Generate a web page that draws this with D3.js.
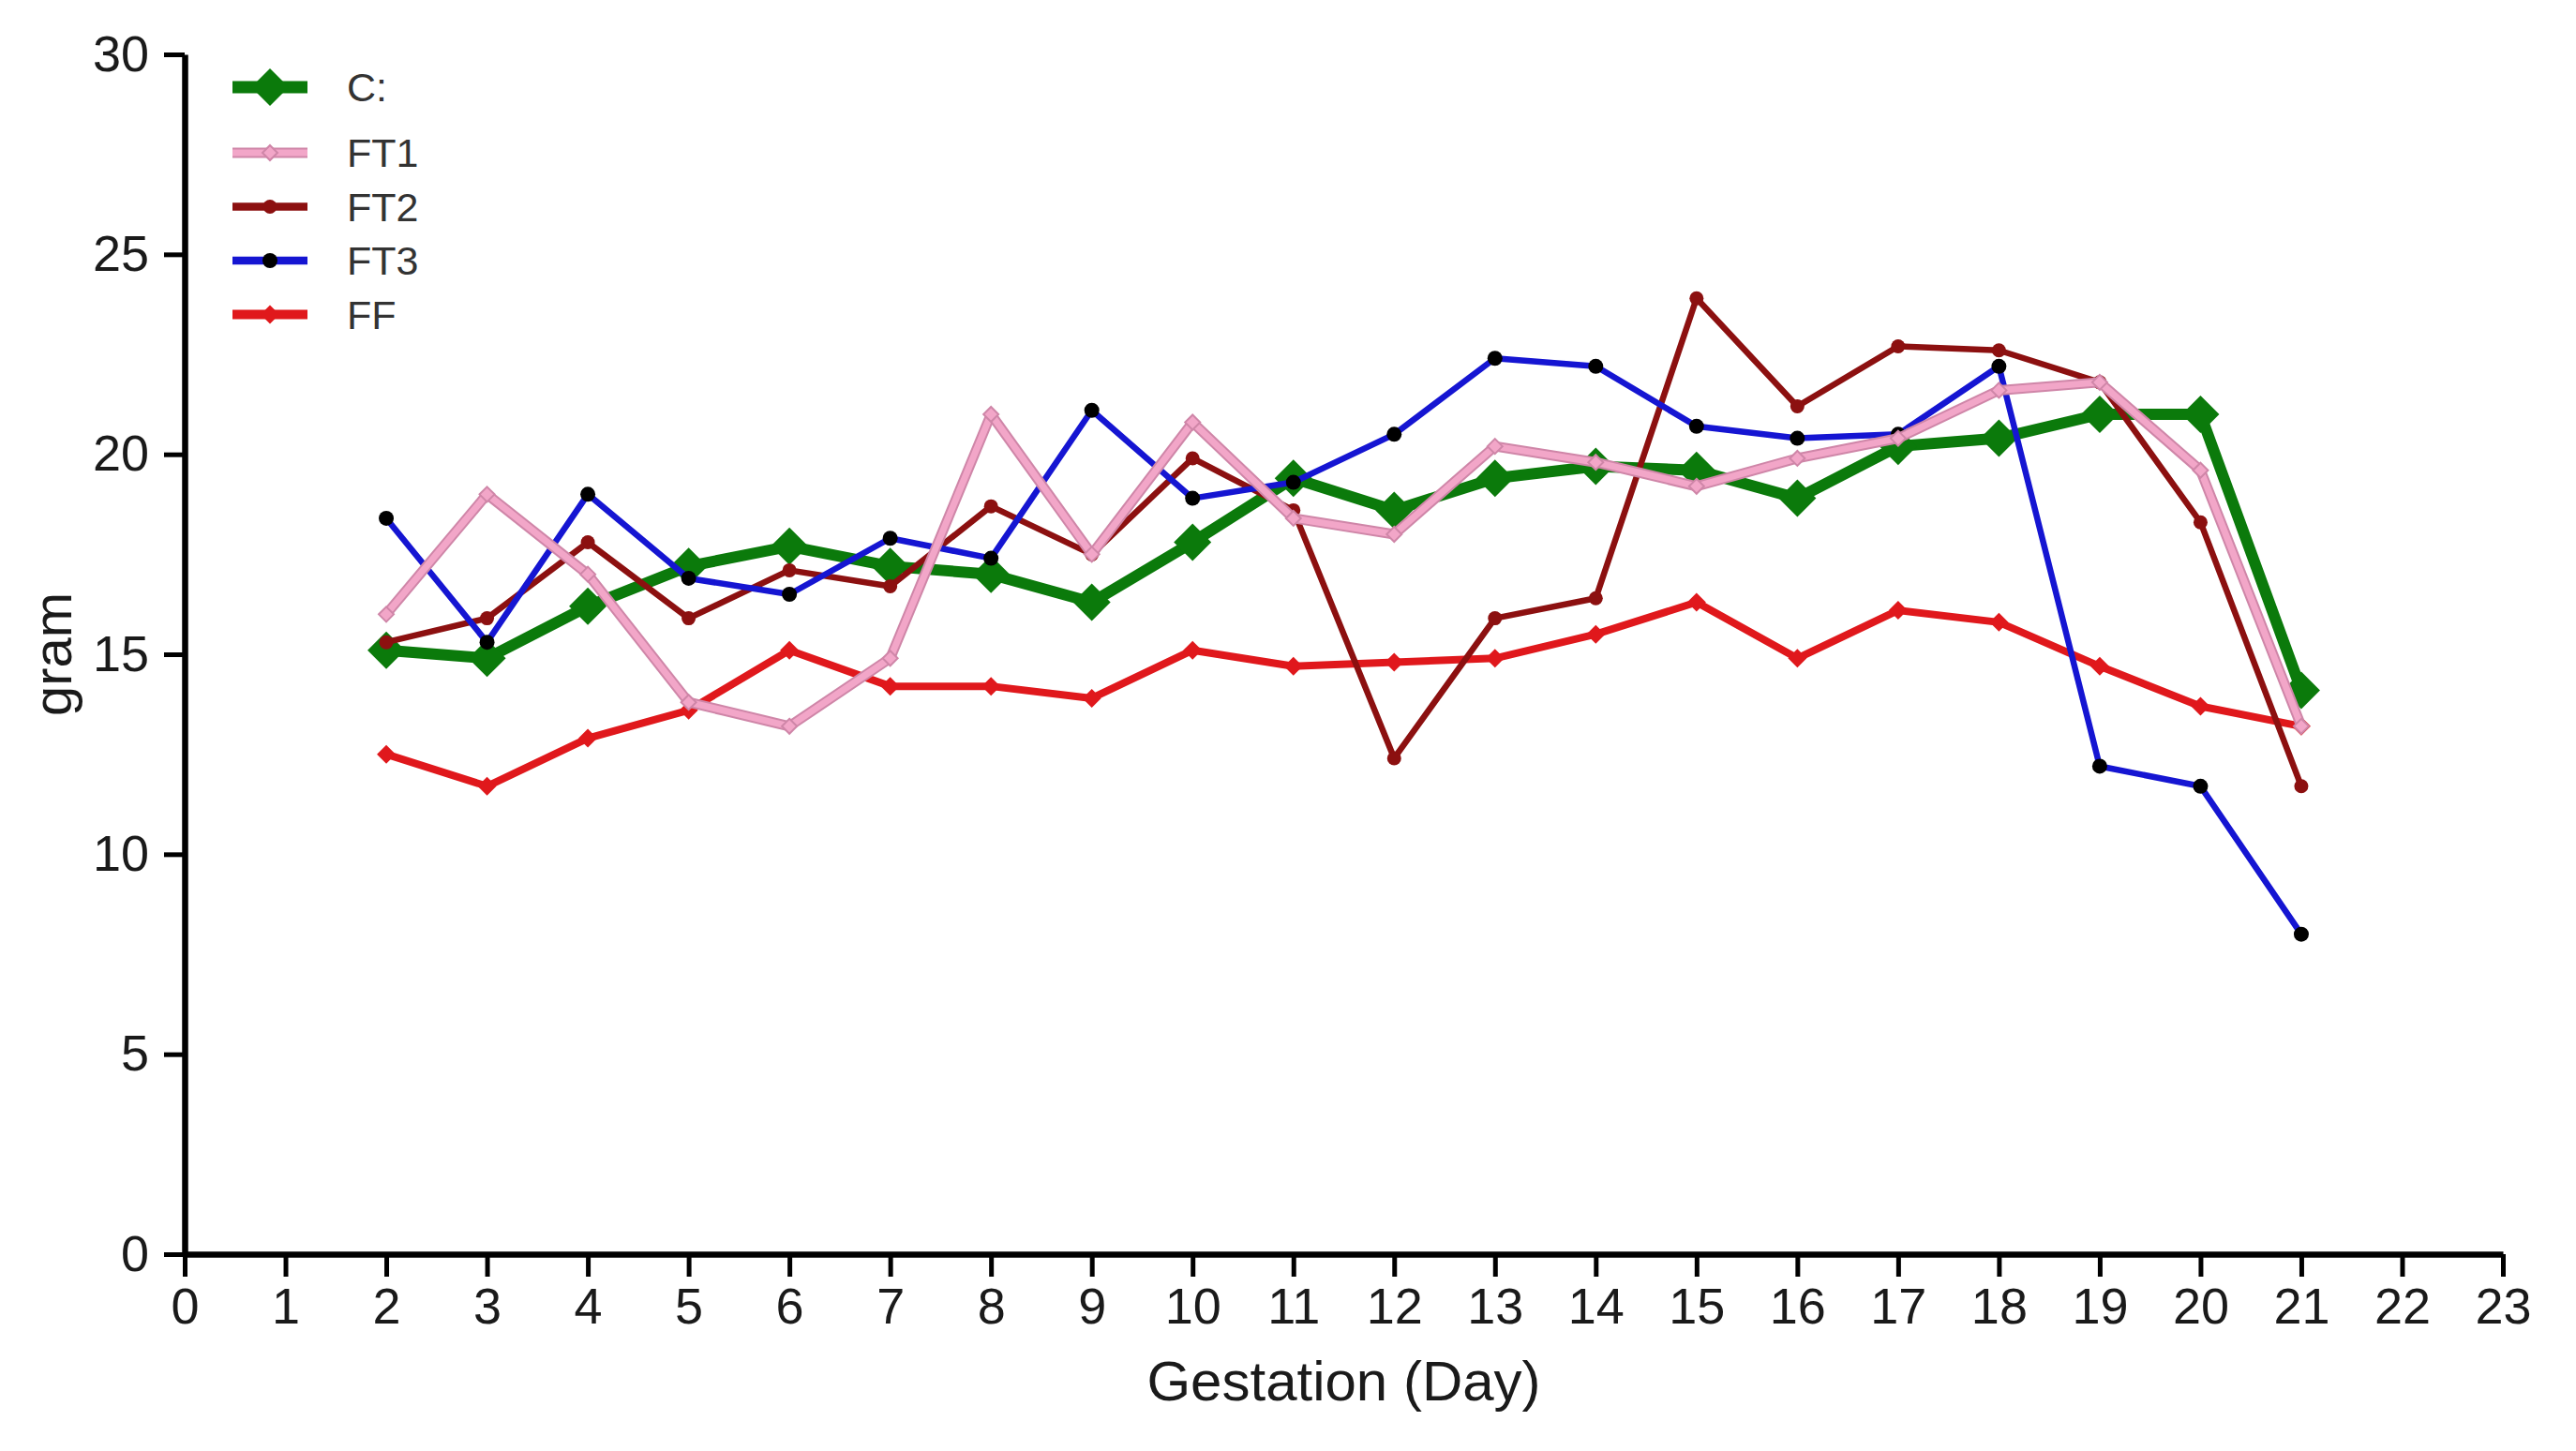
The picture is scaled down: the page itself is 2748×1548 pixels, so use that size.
<!DOCTYPE html>
<html>
<head>
<meta charset="utf-8">
<script src="https://cdn.jsdelivr.net/npm/d3@7"></script>
<style>
  html, body { margin: 0; padding: 0; background: #fff; }
  svg { display: block; }
</style>
</head>
<body>
<svg id="chart"></svg>
<script>
const WIDTH = 2748;
const HEIGHT = 1548;

// data
const days = [2, 3, 4, 5, 6, 7, 8, 9, 10, 11, 12, 13, 14, 15, 16, 17, 18, 19, 20, 21];
const seriesNames = ["C:", "FT1", "FT2", "FT3", "FF"];
const valuesC = [15.1, 14.9, 16.2, 17.2, 17.7, 17.2, 17.0, 16.3, 17.8, 19.4, 18.6, 19.4, 19.7, 19.6, 18.9, 20.2, 20.4, 21.0, 21.0, 14.1];
const valuesFT1 = [16.0, 19.0, 17.0, 13.8, 13.2, 14.9, 21.0, 17.5, 20.8, 18.4, 18.0, 20.2, 19.8, 19.2, 19.9, 20.4, 21.6, 21.8, 19.6, 13.2];
const valuesFT2 = [15.3, 15.9, 17.8, 15.9, 17.1, 16.7, 18.7, 17.5, 19.9, 18.6, 12.4, 15.9, 16.4, 23.9, 21.2, 22.7, 22.6, 21.8, 18.3, 11.7];
const valuesFT3 = [18.4, 15.3, 19.0, 16.9, 16.5, 17.9, 17.4, 21.1, 18.9, 19.3, 20.5, 22.4, 22.2, 20.7, 20.4, 20.5, 22.2, 12.2, 11.7, 8.0];
const valuesFF = [12.5, 11.7, 12.9, 13.6, 15.1, 14.2, 14.2, 13.9, 15.1, 14.7, 14.8, 14.9, 15.5, 16.3, 14.9, 16.1, 15.8, 14.7, 13.7, 13.2];
const xTicks = [0, 1, 2, 3, 4, 5, 6, 7, 8, 9, 10, 11, 12, 13, 14, 15, 16, 17, 18, 19, 20, 21, 22, 23];
const yTicks = [0, 5, 10, 15, 20, 25, 30];

const FONT = "'Liberation Sans', Arial, sans-serif";

const styles = {
  "C:": { color: "#0b7a0b", width: 12, marker: "bigDiamond", markerFill: "#0b7a0b", r: 20 },
  FT1: { color: "#f2a6c8", outline: "#cf86a8", width: 9, marker: "diamond", markerFill: "#f2a6c8", r: 8 },
  FT2: { color: "#8c1010", width: 6.5, marker: "circle", markerFill: "#8c1010", r: 7.5 },
  FT3: { color: "#1515d2", width: 6.5, marker: "circle", markerFill: "#000000", r: 8 },
  FF: { color: "#e0181c", width: 8, marker: "diamond", markerFill: "#e0181c", r: 10 },
};

const valuesByName = { "C:": valuesC, FT1: valuesFT1, FT2: valuesFT2, FT3: valuesFT3, FF: valuesFF };

const svg = d3.select("#chart").attr("width", WIDTH).attr("height", HEIGHT);

const x = d3.scaleLinear().domain([0, 23]).range([197, 2670]);
const y = d3.scaleLinear().domain([0, 30]).range([1338, 58]);

const diamondPath = (r) => `M0,${-r}L${r},0L0,${r}L${-r},0Z`;

// axes
const xAxis = svg
  .append("g")
  .attr("transform", `translate(0, ${y(0)})`)
  .call(d3.axisBottom(x).tickValues(xTicks).tickSizeInner(24).tickSizeOuter(0).tickPadding(12));

const yAxis = svg
  .append("g")
  .attr("transform", `translate(${x(0)}, 0)`)
  .call(d3.axisLeft(y).tickValues(yTicks).tickSizeInner(22).tickSizeOuter(0).tickPadding(16));

[xAxis, yAxis].forEach((g) => {
  g.select(".domain").attr("stroke", "#000").attr("stroke-width", 6.5);
  g.selectAll(".tick line").attr("stroke", "#000").attr("stroke-width", 5);
  g.selectAll(".tick text").attr("font-family", FONT).attr("font-size", 54).attr("fill", "#1a1a1a");
});

// axis titles
svg
  .append("text")
  .attr("x", (x(0) + x(23)) / 2)
  .attr("y", 1494)
  .attr("text-anchor", "middle")
  .attr("font-family", FONT)
  .attr("font-size", 60)
  .attr("fill", "#1a1a1a")
  .text("Gestation (Day)");

svg
  .append("text")
  .attr("transform", `translate(76, ${(y(0) + y(30)) / 2}) rotate(-90)`)
  .attr("text-anchor", "middle")
  .attr("font-family", FONT)
  .attr("font-size", 58)
  .attr("fill", "#1a1a1a")
  .text("gram");

// lines
const line = d3
  .line()
  .x((d) => x(d.day))
  .y((d) => y(d.value));

const drawOrder = ["C:", "FF", "FT2", "FT3", "FT1"];

const drawMarker = (g, st, cx, cy) => {
  if (st.marker === "circle") {
    g.append("circle").attr("cx", cx).attr("cy", cy).attr("r", st.r).attr("fill", st.markerFill);
  } else {
    g.append("path")
      .attr("d", diamondPath(st.r))
      .attr("transform", `translate(${cx}, ${cy})`)
      .attr("fill", st.markerFill)
      .attr("stroke", st.outline || "none")
      .attr("stroke-width", st.outline ? 2 : 0);
  }
};

drawOrder.forEach((name) => {
  const st = styles[name];
  const data = days.map((day, i) => ({ day, value: valuesByName[name][i] }));
  const g = svg.append("g");
  if (st.outline) {
    g.append("path")
      .datum(data)
      .attr("d", line)
      .attr("fill", "none")
      .attr("stroke", st.outline)
      .attr("stroke-width", st.width + 2)
      .attr("stroke-linejoin", "round");
  }
  g.append("path")
    .datum(data)
    .attr("d", line)
    .attr("fill", "none")
    .attr("stroke", st.color)
    .attr("stroke-width", st.outline ? st.width - 2 : st.width)
    .attr("stroke-linejoin", "round");
  data.forEach((d) => drawMarker(g, st, x(d.day), y(d.value)));
});

// legend
const legendY = (i) => (i === 0 ? 93 : 163 + (i - 1) * 57.5);
seriesNames.forEach((name, i) => {
  const st = styles[name];
  const g = svg.append("g").attr("transform", `translate(0, ${legendY(i)})`);
  if (st.outline) {
    g.append("line").attr("x1", 248).attr("x2", 328).attr("stroke", st.outline).attr("stroke-width", st.width + 2);
    g.append("line").attr("x1", 248).attr("x2", 328).attr("stroke", st.color).attr("stroke-width", st.width - 2);
  } else {
    g.append("line")
      .attr("x1", 248)
      .attr("x2", 328)
      .attr("stroke", st.color)
      .attr("stroke-width", name === "C:" ? 13 : st.width + 2);
  }
  drawMarker(g, st, 288, 0);
  g.append("text")
    .attr("x", 370)
    .attr("y", 0)
    .attr("dy", "0.36em")
    .attr("font-family", FONT)
    .attr("font-size", 43)
    .attr("fill", "#333")
    .text(name);
});
</script>
</body>
</html>
